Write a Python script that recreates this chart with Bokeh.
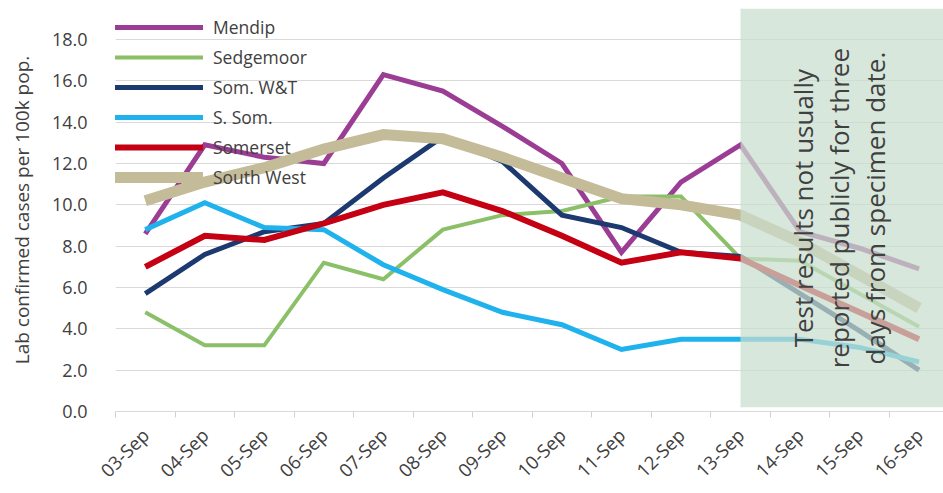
import math
from bokeh.plotting import figure
from bokeh.models import (Range1d, FixedTicker, Legend, LegendItem, BoxAnnotation,
                          Label, NumeralTickFormatter)
from bokeh.embed import file_html
from bokeh.resources import INLINE

# ---- data ----
dates = ["03-Sep", "04-Sep", "05-Sep", "06-Sep", "07-Sep", "08-Sep", "09-Sep",
         "10-Sep", "11-Sep", "12-Sep", "13-Sep", "14-Sep", "15-Sep", "16-Sep"]
mendip = [8.6, 12.9, 12.3, 12.0, 16.3, 15.5, 13.8, 12.0, 7.7, 11.1, 12.9, 8.7, 7.9, 6.9]
sedgemoor = [4.8, 3.2, 3.2, 7.2, 6.4, 8.8, 9.5, 9.7, 10.4, 10.4, 7.4, 7.3, 5.7, 4.1]
som_wt = [5.7, 7.6, 8.7, 9.1, 11.3, 13.3, 12.1, 9.5, 8.9, 7.7, 7.5, 5.7, 3.9, 2.0]
s_som = [8.8, 10.1, 8.9, 8.8, 7.1, 5.9, 4.8, 4.2, 3.0, 3.5, 3.5, 3.5, 3.1, 2.4]
somerset = [7.0, 8.5, 8.3, 9.1, 10.0, 10.6, 9.7, 8.5, 7.2, 7.7, 7.4, 6.1, 4.8, 3.5]
south_west = [10.2, 11.1, 11.8, 12.7, 13.4, 13.2, 12.3, 11.3, 10.3, 10.0, 9.5, 8.2, 6.6, 5.0]

series_names = ["Mendip", "Sedgemoor", "Som. W&T", "S. Som.", "Somerset", "South West"]
series_values = [mendip, sedgemoor, som_wt, s_som, somerset, south_west]
y_ticks = [0, 2, 4, 6, 8, 10, 12, 14, 16, 18]
shade_from = "13-Sep"
note = "Test results not usually\nreported publicly for three\ndays from specimen date."

# ---- styles ----
colors = ["#9b3d94", "#8cc068", "#1c3a70", "#1fb2ec", "#c40012", "#c4bb98"]
widths = [5, 4, 5, 5, 6, 11]
FONT = "Open Sans"
TXT = "#404040"

x = list(range(len(dates)))

p = figure(width=943, height=493, output_backend="svg", toolbar_location=None,
           x_range=Range1d(-0.5, 13.41), y_range=Range1d(0, 19.5),
           min_border_left=115, min_border_right=0, min_border_top=8,
           min_border_bottom=81)
p.outline_line_color = None
p.background_fill_color = "white"

renderers = []
for vals, c, w in zip(series_values, colors, widths):
    r = p.line(x, vals, line_color=c, line_width=w, line_join="miter")
    renderers.append(r)

# shaded region (incomplete data)
box = BoxAnnotation(left=dates.index(shade_from), bottom=0.2,
                    fill_color="#c9decd", fill_alpha=0.72, line_color=None)
p.add_layout(box)

lab = Label(x=11.66, y=9.84, text=note, angle=math.pi / 2,
            text_align="center", text_baseline="middle",
            text_font=FONT, text_font_size="26px", text_color="#404040",
            text_line_height=1.0)
p.add_layout(lab)

# axes
p.xgrid.grid_line_color = None
p.ygrid.grid_line_color = "#d9d9d9"
p.ygrid.ticker = FixedTicker(ticks=y_ticks)

p.yaxis.ticker = FixedTicker(ticks=y_ticks)
p.yaxis.formatter = NumeralTickFormatter(format="0.0")
p.yaxis.axis_line_color = None
p.yaxis.major_tick_line_color = None
p.yaxis.minor_tick_line_color = None
p.yaxis.major_label_standoff = 22
p.yaxis.major_label_text_font = FONT
p.yaxis.major_label_text_font_size = "18px"
p.yaxis.major_label_text_color = TXT
p.yaxis.axis_label = "Lab confirmed cases per 100k pop."
p.yaxis.axis_label_text_font = FONT
p.yaxis.axis_label_text_font_size = "19px"
p.yaxis.axis_label_text_font_style = "normal"
p.yaxis.axis_label_text_color = TXT
p.yaxis.axis_label_standoff = 14

p.xaxis.ticker = FixedTicker(ticks=x, minor_ticks=[i - 0.5 for i in range(len(dates) + 1)])
p.xaxis.major_label_overrides = {i: d for i, d in enumerate(dates)}
p.xaxis.major_label_orientation = math.pi / 4
p.xaxis.major_tick_line_color = None
p.xaxis.minor_tick_line_color = "#d0d0d0"
p.xaxis.minor_tick_out = 6
p.xaxis.minor_tick_in = 0
p.xaxis.axis_line_color = "#d9d9d9"
p.xaxis.major_label_standoff = 14
p.xaxis.major_label_text_font = FONT
p.xaxis.major_label_text_font_size = "18.5px"
p.xaxis.major_label_text_color = TXT

legend = Legend(items=[LegendItem(label=n, renderers=[r]) for n, r in zip(series_names, renderers)],
                location=(-2, 219), glyph_width=90, glyph_height=30, label_height=30,
                spacing=0, padding=0, margin=0, label_standoff=10,
                label_text_font=FONT, label_text_font_size="17.5px",
                label_text_color="#404040", background_fill_alpha=0,
                border_line_color=None)
p.add_layout(legend)

open("out.html", "w").write(file_html(p, INLINE))
